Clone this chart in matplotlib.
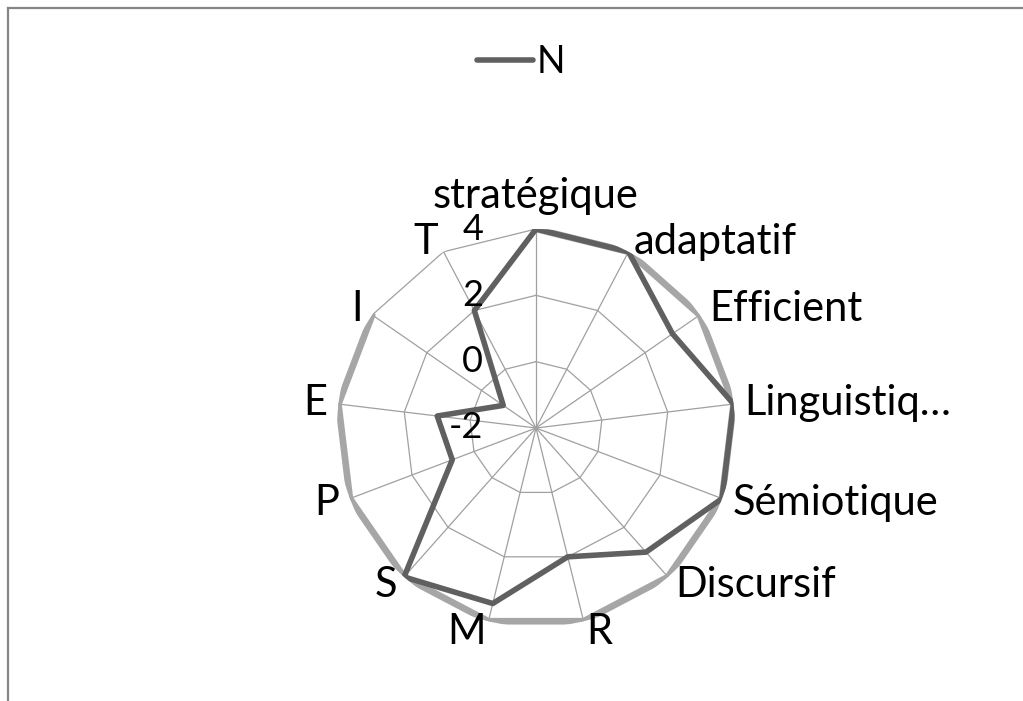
import numpy as np
import matplotlib
matplotlib.use("Agg")
import matplotlib.pyplot as plt
from matplotlib.lines import Line2D

plt.rcParams['font.family'] = ['Lato', 'DejaVu Sans']

categories = ["stratégique", "adaptatif", "Efficient", "Linguistiq…", "Sémiotique",
              "Discursif", "R", "M", "S", "P", "E", "I", "T"]
series_n = [4, 4, 3, 4, 4, 3, 2, 3.45, 4, 0.7, 1, -0.8, 2]
series_ref = [4, 4, 4, 4, 4, 4, 4, 4, 4, 4, 4, 4, np.nan]
tick_values = [-2, 0, 2, 4]
tick_labels = ["-2", "0", "2", "4"]

W, H = 1023, 701
fig = plt.figure(figsize=(W / 100, H / 100), dpi=100)

cx, cy, R = 536, 428, 199
ax = fig.add_axes([(cx - R) / W, (H - cy - R) / H, 2 * R / W, 2 * R / H], projection='polar')
ax.set_theta_zero_location('N')
ax.set_theta_direction(-1)
ax.set_ylim(-2, 4)
ax.set_facecolor('none')
ax.spines['polar'].set_visible(False)
ax.grid(False)
ax.set_xticks([])
ax.set_yticks([])

n = len(categories)
theta = np.arange(n) * 2 * np.pi / n
theta_c = np.append(theta, theta[0])

grid_col = '#a0a0a0'
for v in tick_values[1:]:
    ax.plot(theta_c, [v] * (n + 1), color=grid_col, lw=0.9, zorder=1)
for t in theta:
    ax.plot([t, t], [-2, 4], color=grid_col, lw=0.9, zorder=1)

ref = np.append(series_ref, series_ref[0])
nv = np.append(series_n, series_n[0])
ax.plot(theta_c, ref, color='#a6a6a6', lw=4.8, solid_capstyle='round',
        solid_joinstyle='round', zorder=3)
ax.plot(theta_c, nv, color='#606060', lw=4.0, solid_capstyle='round',
        solid_joinstyle='round', zorder=4)

# tick labels
for v, lab in zip(tick_values, tick_labels):
    ax.annotate(lab, xy=(0, v), xycoords='data', xytext=(-38, 0),
                textcoords='offset points', ha='right', va='center',
                fontsize=26, color='#000000', zorder=5)

# category labels
for t, lab in zip(theta, categories):
    s, c = np.sin(t), np.cos(t)
    if abs(s) < 0.1 and c > 0:
        ha, va, dx, dy = 'center', 'bottom', 0, 10
    else:
        ha = 'left' if s > 0 else 'right'
        va = 'center'
        dx, dy = 8 * s, 8 * c
    ax.annotate(lab, xy=(t, 4), xycoords='data', xytext=(dx, dy),
                textcoords='offset points', ha=ha, va=va, fontsize=30,
                color='#000000', zorder=5)

# legend
h = Line2D([0], [0], color='#606060', lw=4.0, solid_capstyle='round')
fig.legend([h], ['N'], loc='center', bbox_to_anchor=(521 / W, 1 - 62 / H),
           frameon=False, fontsize=27, handlelength=1.5, handletextpad=0.1)

# chart border (top and left visible)
fig.add_artist(Line2D([7.5 / W, 7.5 / W], [0, 1 - 8 / H], color='#868686', lw=1.6,
                      transform=fig.transFigure))
fig.add_artist(Line2D([7.5 / W, 1], [1 - 8 / H, 1 - 8 / H], color='#868686', lw=1.6,
                      transform=fig.transFigure))

fig.savefig('out.png', dpi=100, facecolor='white')
